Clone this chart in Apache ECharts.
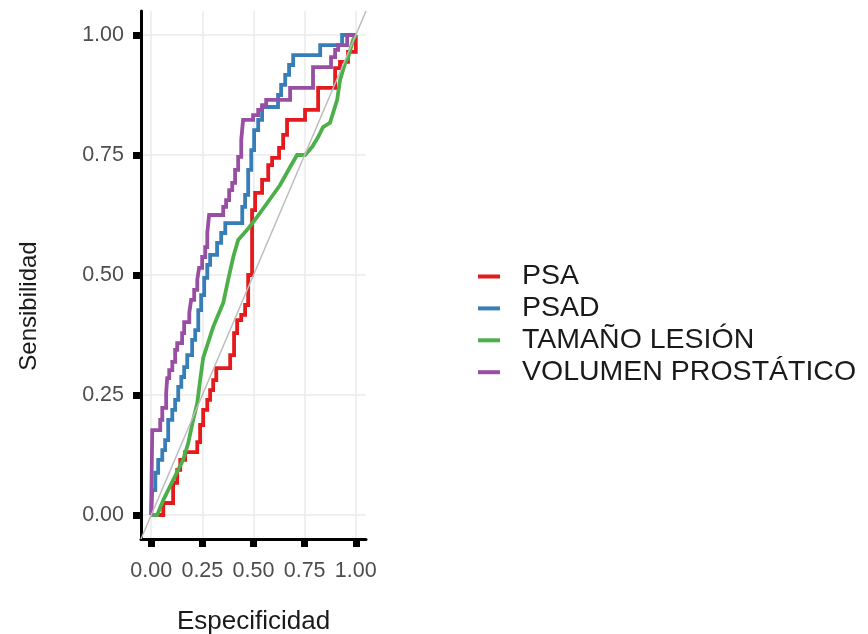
<!DOCTYPE html>
<html>
<head>
<meta charset="utf-8">
<script src="https://cdn.jsdelivr.net/npm/echarts@6/dist/echarts.min.js"></script>
<style>
  html, body { margin: 0; padding: 0; background: #ffffff; }
  #chart { width: 868px; height: 634px; }
</style>
</head>
<body>
<div id="chart"></div>
<script>
// ---- data ----
const seriesNames = ['PSA', 'PSAD', 'TAMAÑO LESIÓN', 'VOLUMEN PROSTÁTICO'];
const seriesColors = ['#E41A1C', '#377EB8', '#4DAF4A', '#984EA3'];
const tickValues = [0, 0.25, 0.5, 0.75, 1];
const axisMin = -0.05;
const axisMax = 1.05;

const psa = [[0,0],[0.059,0],[0.059,0.025],[0.107,0.025],[0.107,0.067],[0.127,0.067],[0.127,0.094],[0.142,0.094],[0.142,0.115],[0.166,0.115],[0.166,0.131],[0.225,0.131],[0.225,0.152],[0.239,0.152],[0.239,0.1875],[0.254,0.1875],[0.254,0.219],[0.274,0.219],[0.274,0.240],[0.288,0.240],[0.288,0.260],[0.303,0.260],[0.303,0.281],[0.318,0.281],[0.318,0.306],[0.386,0.306],[0.386,0.333],[0.405,0.333],[0.405,0.379],[0.420,0.379],[0.420,0.406],[0.440,0.406],[0.440,0.417],[0.459,0.417],[0.459,0.4375],[0.474,0.4375],[0.474,0.5],[0.493,0.5],[0.493,0.635],[0.508,0.635],[0.508,0.671],[0.542,0.671],[0.542,0.698],[0.572,0.698],[0.572,0.729],[0.591,0.729],[0.591,0.744],[0.625,0.744],[0.625,0.765],[0.645,0.765],[0.645,0.792],[0.664,0.792],[0.664,0.823],[0.752,0.823],[0.752,0.844],[0.816,0.844],[0.816,0.890],[0.899,0.890],[0.899,0.931],[0.923,0.931],[0.923,0.944],[0.962,0.944],[0.962,0.965],[1,0.965],[1,1]];

const psad = [[0,0],[0.005,0],[0.005,0.052],[0.020,0.052],[0.020,0.088],[0.034,0.088],[0.034,0.115],[0.054,0.115],[0.054,0.135],[0.068,0.135],[0.068,0.156],[0.083,0.156],[0.083,0.198],[0.103,0.198],[0.103,0.219],[0.117,0.219],[0.117,0.240],[0.132,0.240],[0.132,0.267],[0.147,0.267],[0.147,0.2875],[0.161,0.2875],[0.161,0.308],[0.176,0.308],[0.176,0.333],[0.200,0.333],[0.200,0.365],[0.215,0.365],[0.215,0.385],[0.230,0.385],[0.230,0.427],[0.244,0.427],[0.244,0.458],[0.259,0.458],[0.259,0.494],[0.274,0.494],[0.274,0.521],[0.288,0.521],[0.288,0.542],[0.322,0.542],[0.322,0.567],[0.342,0.567],[0.342,0.5875],[0.362,0.5875],[0.362,0.608],[0.445,0.608],[0.445,0.642],[0.459,0.642],[0.459,0.667],[0.474,0.667],[0.474,0.719],[0.489,0.719],[0.489,0.760],[0.503,0.760],[0.503,0.802],[0.523,0.802],[0.523,0.823],[0.542,0.823],[0.542,0.85],[0.620,0.85],[0.620,0.875],[0.635,0.875],[0.635,0.896],[0.655,0.896],[0.655,0.917],[0.674,0.917],[0.674,0.9375],[0.694,0.9375],[0.694,0.958],[0.826,0.958],[0.826,0.979],[0.933,0.979],[0.933,1],[1,1]];

const tamano = [[0,0],[0.029,0],[0.059,0.031],[0.107,0.073],[0.156,0.115],[0.181,0.150],[0.205,0.198],[0.225,0.233],[0.239,0.281],[0.254,0.327],[0.303,0.392],[0.352,0.442],[0.376,0.490],[0.401,0.5375],[0.425,0.573],[0.469,0.594],[0.518,0.621],[0.567,0.650],[0.630,0.6875],[0.679,0.725],[0.713,0.75],[0.752,0.75],[0.787,0.767],[0.816,0.7875],[0.840,0.808],[0.874,0.817],[0.909,0.865],[0.923,0.906],[0.948,0.942],[0.962,0.952],[0.987,0.990],[1,1]];

const volumen = [[0,0],[0,0.021],[0.005,0.021],[0.005,0.177],[0.044,0.177],[0.044,0.198],[0.054,0.198],[0.054,0.223],[0.073,0.223],[0.073,0.254],[0.078,0.254],[0.078,0.285],[0.088,0.285],[0.088,0.302],[0.103,0.302],[0.103,0.319],[0.117,0.319],[0.117,0.344],[0.127,0.344],[0.127,0.358],[0.151,0.358],[0.151,0.379],[0.161,0.379],[0.161,0.402],[0.186,0.402],[0.186,0.421],[0.195,0.421],[0.195,0.448],[0.210,0.448],[0.210,0.469],[0.225,0.469],[0.225,0.490],[0.234,0.490],[0.234,0.515],[0.249,0.515],[0.249,0.5375],[0.264,0.5375],[0.264,0.558],[0.274,0.558],[0.274,0.5875],[0.283,0.5875],[0.283,0.625],[0.352,0.625],[0.352,0.642],[0.366,0.642],[0.366,0.656],[0.381,0.656],[0.381,0.677],[0.396,0.677],[0.396,0.692],[0.410,0.692],[0.410,0.719],[0.425,0.719],[0.425,0.746],[0.440,0.746],[0.440,0.781],[0.449,0.781],[0.449,0.823],[0.498,0.823],[0.498,0.833],[0.523,0.833],[0.523,0.844],[0.542,0.844],[0.542,0.854],[0.562,0.854],[0.562,0.865],[0.679,0.865],[0.679,0.890],[0.791,0.890],[0.791,0.933],[0.879,0.933],[0.879,0.954],[0.899,0.954],[0.899,0.969],[0.914,0.969],[0.914,0.979],[0.958,0.979],[0.958,1],[1,1]];

const diagonal = [[-0.05,-0.05],[1.05,1.05]];

const curves = [psa, psad, tamano, volumen];

// ---- chart ----
const FONT = '"Liberation Sans", Arial, Helvetica, sans-serif';
const chart = echarts.init(document.getElementById('chart'), null, { renderer: 'canvas' });

function makeAxis(isX) {
  return {
    type: 'value',
    min: axisMin,
    max: axisMax,
    name: isX ? 'Especificidad' : 'Sensibilidad',
    nameLocation: 'middle',
    nameGap: isX ? 70 : 100,
    nameTextStyle: isX
      ? { fontFamily: FONT, fontSize: 26, color: '#1a1a1a' }
      : { fontFamily: FONT, fontSize: 24, color: '#1a1a1a', padding: [0, 62, 0, 0] },
    axisLine: { show: true, onZero: false, lineStyle: { color: '#000', width: 3 } },
    axisTick: { show: true, length: 8, customValues: tickValues, lineStyle: { color: '#000', width: 7 } },
    axisLabel: {
      show: true,
      customValues: tickValues,
      margin: isX ? 21 : 17,
      fontFamily: FONT,
      fontSize: 21.5,
      color: '#4d4d4d',
      formatter: v => v.toFixed(2)
    },
    splitLine: { show: true, lineStyle: { color: '#ebebeb', width: 1.5 } },
    minorSplitLine: { show: false }
  };
}

const series = curves.map((d, i) => ({
  name: seriesNames[i],
  type: 'line',
  data: d,
  showSymbol: false,
  symbol: 'none',
  clip: true,
  lineStyle: { color: seriesColors[i], width: 3.8, join: 'miter' },
  itemStyle: { color: seriesColors[i] },
  emphasis: { disabled: true },
  z: 3 + i
}));
series.push({
  type: 'line',
  data: diagonal,
  showSymbol: false,
  symbol: 'none',
  clip: true,
  silent: true,
  lineStyle: { color: '#bdbdbd', width: 1.5 },
  z: 10
});

chart.setOption({
  animation: false,
  backgroundColor: '#ffffff',
  grid: { left: 141, top: 11, width: 225, height: 528, containLabel: false, outerBoundsMode: 'none' },
  xAxis: makeAxis(true),
  yAxis: makeAxis(false),
  legend: {
    data: seriesNames,
    orient: 'vertical',
    left: 473,
    top: 257,
    icon: 'rect',
    itemWidth: 22,
    itemHeight: 4,
    itemGap: 2.9,
    selectedMode: false,
    textStyle: { fontFamily: FONT, fontSize: 28.5, color: '#1a1a1a', lineHeight: 27, padding: [0, 0, 0, 17] }
  },
  series: series
});
</script>
</body>
</html>
